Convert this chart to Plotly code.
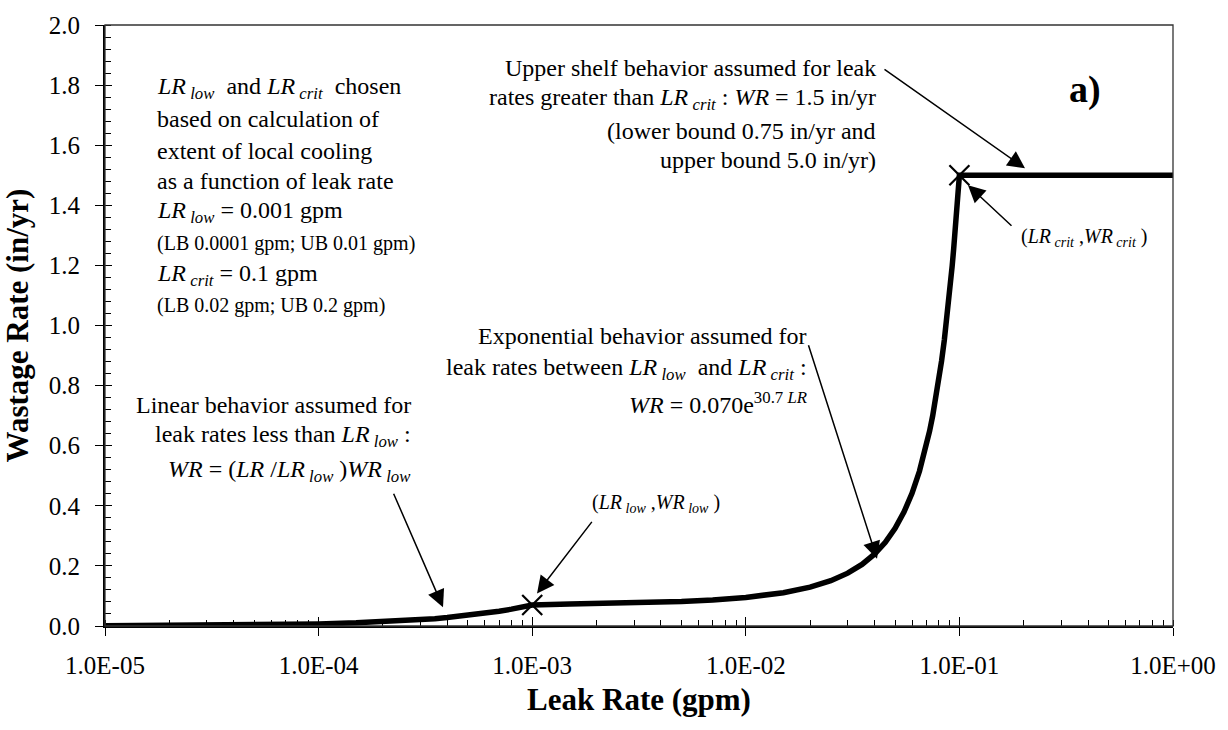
import plotly.graph_objects as go

# ---- data ----
leak_rate = [1e-5, 2e-5, 3e-5, 5e-5, 7e-5, 1e-4, 1.5e-4, 2e-4, 2.5e-4, 3e-4, 3.5e-4, 4e-4,
             5e-4, 6e-4, 7e-4, 8e-4, 9e-4, 1e-3,
             0.0015, 0.002, 0.003, 0.004, 0.005, 0.007, 0.01, 0.015, 0.02, 0.025, 0.03,
             0.035, 0.04, 0.045, 0.05, 0.055, 0.06, 0.065, 0.07, 0.0725, 0.075, 0.0775,
             0.08, 0.0825, 0.085, 0.0875, 0.09, 0.092, 0.0925, 0.094, 0.095, 0.096, 0.098,
             0.1, 1.0]
wastage_rate = [0.0007, 0.0014, 0.0021, 0.0035, 0.0049, 0.007, 0.0105, 0.014, 0.0175, 0.021,
                0.0245, 0.028, 0.035, 0.042, 0.049, 0.056, 0.063, 0.070,
                0.0733, 0.0744, 0.0768, 0.0791, 0.0816, 0.0868, 0.0952, 0.1109, 0.1294,
                0.1508, 0.1758, 0.2050, 0.2390, 0.2787, 0.3249, 0.3788, 0.4416, 0.5149,
                0.6003, 0.6482, 0.7000, 0.7558, 0.8161, 0.8812, 0.9515, 1.0274, 1.1093,
                1.1796, 1.1978, 1.2543, 1.2933, 1.3337, 1.4181, 1.5, 1.5]

point_lr = [0.001, 0.1]
point_wr = [0.07, 1.5]

x_tickvals = [1e-5, 1e-4, 1e-3, 1e-2, 1e-1, 1e0]
x_ticktext = ["1.0E-05", "1.0E-04", "1.0E-03", "1.0E-02", "1.0E-01", "1.0E+00"]

FONT = "Times New Roman, Liberation Serif, serif"

# plot-area pixel frame (for placing annotations)
PL, PR, PT, PB = 105, 1173, 18, 626


def px(x):
    return (x - PL) / (PR - PL)


def py(y):
    return (PB - y) / (PB - PT)


fig = go.Figure()
fig.add_trace(go.Scatter(x=leak_rate, y=wastage_rate, mode="lines",
                         line=dict(color="black", width=5.5), hoverinfo="skip",
                         showlegend=False))
fig.add_trace(go.Scatter(x=point_lr, y=point_wr, mode="markers",
                         marker=dict(symbol="x-thin", size=20,
                                     line=dict(color="black", width=2.2)),
                         showlegend=False))
# helper overlay axes for inside part of major ticks
fig.add_trace(go.Scatter(x=[], y=[], xaxis="x2", yaxis="y2", showlegend=False))

fig.update_layout(
    width=1228, height=730,
    margin=dict(l=PL, r=1228 - PR, t=PT, b=730 - PB),
    paper_bgcolor="white", plot_bgcolor="white",
    font=dict(family=FONT, color="black", size=24),
    xaxis=dict(type="log", range=[-5, 0], tickvals=x_tickvals, ticktext=x_ticktext,
               ticks="outside", ticklen=8, tickwidth=1.2, tickcolor="black",
               showline=True, linecolor="black", linewidth=1.8, showgrid=False,
               zeroline=False, tickfont=dict(family=FONT, size=25), ticklabelstandoff=8,
               minor=dict(ticks="inside", ticklen=6, tickwidth=1.2, tickcolor="black",
                          dtick="D1", showgrid=False),
               title=dict(text="<b>Leak Rate (gpm)</b>", font=dict(family=FONT, size=31),
                          standoff=10)),
    yaxis=dict(range=[0, 2.0], dtick=0.2, tickformat=".1f",
               ticks="outside", ticklen=8, tickwidth=1.2, tickcolor="black",
               showline=True, linecolor="black", linewidth=1.8, showgrid=False,
               zeroline=False, tickfont=dict(family=FONT, size=25), ticklabelstandoff=10,
               minor=dict(ticks="inside", ticklen=6, tickwidth=1.2, tickcolor="black",
                          dtick=0.04, showgrid=False),
               title=dict(text="<b>Wastage Rate (in/yr)</b>", font=dict(family=FONT, size=31),
                          standoff=14)),
    xaxis2=dict(type="log", range=[-5, 0], overlaying="x", anchor="y2", side="bottom",
                tickvals=x_tickvals, showticklabels=False, ticks="inside", ticklen=9,
                tickwidth=1.2, tickcolor="black", showgrid=False, zeroline=False,
                showline=False),
    yaxis2=dict(range=[0, 2.0], overlaying="y", anchor="x2", side="left", dtick=0.2,
                showticklabels=False, ticks="inside", ticklen=7, tickwidth=1.2,
                tickcolor="black", showgrid=False, zeroline=False, showline=False),
    shapes=[dict(type="rect", xref="paper", yref="paper", x0=0, x1=1, y0=0, y1=1,
                 line=dict(color="#333333", width=1.3), layer="above")],
)

LR = "<i>LR</i>"
LR_LOW = "<i>LR</i><sub><i> low</i></sub>"
LR_CRIT = "<i>LR</i><sub><i> crit</i></sub>"
WR = "<i>WR</i>"
WR_LOW = "<i>WR</i><sub><i> low</i></sub>"
WR_CRIT = "<i>WR</i><sub><i> crit</i></sub>"

annotations = []


def text(x, y, s, anchor="left", size=24, bold=False):
    annotations.append(dict(
        x=px(x), y=py(y), xref="paper", yref="paper", text=(f"<b>{s}</b>" if bold else s),
        showarrow=False, xanchor=anchor, yanchor="middle", align=anchor,
        font=dict(family=FONT, size=size, color="black")))


def arrow(tip_x, tip_y, tail_x, tail_y):
    annotations.append(dict(
        x=px(tip_x), y=py(tip_y), xref="paper", yref="paper", text="",
        showarrow=True, ax=tail_x - tip_x, ay=tail_y - tip_y,
        arrowhead=2, arrowsize=2.3, arrowwidth=1.5, arrowcolor="black", standoff=0))


# left block
text(155, 82, f"{LR_LOW}  and {LR_CRIT}  chosen")
text(155, 113, "based on calculation of")
text(155, 145, "extent of local cooling")
text(155, 176, "as a function of leak rate")
text(155, 207, f"{LR_LOW} = 0.001 gpm")
text(155, 239, "(LB 0.0001 gpm; UB 0.01 gpm)", size=20)
text(155, 271, f"{LR_CRIT} = 0.1 gpm")
text(155, 302, "(LB 0.02 gpm; UB 0.2 gpm)", size=20)

# upper shelf block
text(878, 62, "Upper shelf behavior assumed for leak", anchor="right")
text(878, 93, f"rates greater than {LR_CRIT} : {WR} = 1.5 in/yr", anchor="right")
text(878, 125, "(lower bound 0.75 in/yr and", anchor="right")
text(878, 155, "upper bound 5.0 in/yr)", anchor="right")

# a)
text(1085, 83, "a)", anchor="center", size=38, bold=True)

# crit point label
text(1084, 233, f"({LR_CRIT} ,{WR_CRIT} )", anchor="center", size=20)

# exponential block
text(809, 333, "Exponential behavior assumed for", anchor="right")
text(809, 366, f"leak rates between {LR_LOW}  and {LR_CRIT} :", anchor="right")
text(809, 400, f"{WR} = 0.070e<sup>30.7 <i>LR</i></sup>", anchor="right")

# linear block
text(413, 402, "Linear behavior assumed for", anchor="right")
text(413, 434, f"leak rates less than {LR_LOW} :", anchor="right")
text(413, 469, f"{WR} = ({LR} /{LR_LOW} ){WR_LOW}", anchor="right")

# low point label
text(656, 502, f"({LR_LOW} ,{WR_LOW} )", anchor="center", size=20)

# arrows
arrow(1025, 163, 883, 63)
arrow(968, 180, 1013, 222)
arrow(877, 558, 808, 343)
arrow(443, 607, 393, 492)
arrow(537, 593, 593, 520)

fig.update_layout(annotations=annotations)

fig.write_html("out.html")
